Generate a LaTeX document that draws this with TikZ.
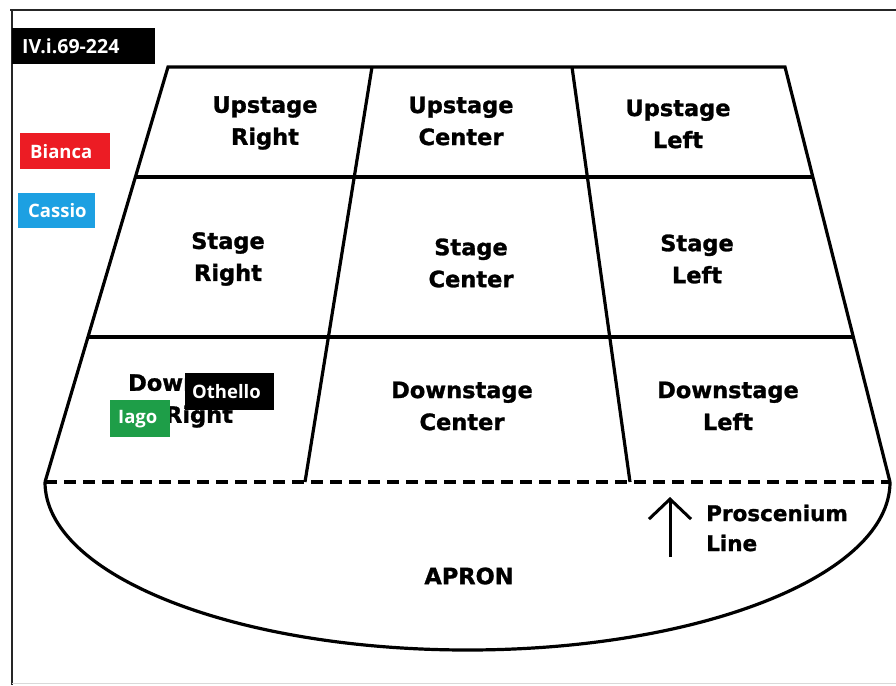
\documentclass[tikz,border=0pt]{standalone}
\usepackage{fontspec}
\usepackage{tikz}
\usetikzlibrary{arrows.meta}

\newfontfamily\stagefont{DejaVu Sans}[BoldFeatures={FakeBold=1.2}]
\newfontfamily\tagfont{Open Sans}

\definecolor{biancared}{RGB}{236,28,36}
\definecolor{cassioblue}{RGB}{29,160,226}
\definecolor{iagogreen}{RGB}{30,158,72}

\begin{document}
\begin{tikzpicture}[
		x=1pt, y=-1pt,
		stage/.style={line width=3.2pt, line join=miter},
		frame/.style={line width=2pt, black!85},
		area/.style={font=\stagefont\bfseries\fontsize{22.5}{32}\selectfont, align=center, inner sep=0pt},
		tagbox/.style={font=\tagfont\bfseries\fontsize{18.5}{20}\selectfont, text=white, align=left, minimum height=36pt, inner xsep=10pt, inner ysep=0pt, anchor=north west}
	]
  \useasboundingbox (0,0) rectangle (896,685);
  % frame
  \draw[frame] (10,10) -- (896,10);
  \draw[frame] (12,10) -- (12,685);
  \draw[black!15, line width=1pt] (12,683) -- (896,683);
  % stage corners
  \coordinate (tl) at (168,67);
  \coordinate (tr) at (785,67);
  \coordinate (bl) at (45,482);
  \coordinate (br) at (890,482);
  \coordinate (r1l) at (135,177);
  \coordinate (r1r) at (813,177);
  \coordinate (r2l) at (88,337);
  \coordinate (r2r) at (853,337);
  \coordinate (d1t) at (372,67);
  \coordinate (d1b) at (305,482);
  \coordinate (d2t) at (572,67);
  \coordinate (d2b) at (630,482);
  \draw[stage] (bl) -- (tl) -- (tr) -- (br);
  \draw[stage] (r1l) -- (r1r);
  \draw[stage] (r2l) -- (r2r);
  \draw[stage] (d1t) -- (d1b);
  \draw[stage] (d2t) -- (d2b);
  \draw[stage, dash pattern=on 12pt off 7pt] (bl) -- (br);
  % apron
  \draw[stage] (bl) .. controls (45,575) and (234,650) .. (467.5,650)
    .. controls (701,650) and (890,575) .. (br);
  % areas
  \node (ur) [area] at (265,123) {Upstage\\Right};
  \node (uc) [area] at (461,121) {Upstage\\Center};
  \node (ul) [area] at (678,124) {Upstage\\Left};
  \node (sr) [area] at (228,259) {Stage\\Right};
  \node (sc) [area] at (471,263) {Stage\\Center};
  \node (sl) [area] at (697,259) {Stage\\Left};
  \node (dr) [area] at (199,401) {Downstage\\Right};
  \node (dc) [area] at (462,406) {Downstage\\Center};
  \node (dl) [area] at (728,406) {Downstage\\Left};
  \node (apron) [area] at (469,576) {APRON};
  \node (pros) [area, font=\stagefont\bfseries\fontsize{21.5}{30}\selectfont, align=left, anchor=west] at (706,528) {Proscenium\\Line};
  % proscenium arrow
  \coordinate (arrowbase) at (670,557);
  \coordinate (arrowtip) at (670,497);
  \draw[line width=3pt, -{Straight Barb[length=20pt, width=42pt, line width=3pt]}] (arrowbase) -- (arrowtip);
  % characters
  \node (scene) [tagbox, fill=black, text width=123pt, font=\tagfont\bfseries\fontsize{19.5}{20}\selectfont] at (12,28) {IV.i.69-224};
  \node (bianca) [tagbox, fill=biancared, text width=70pt] at (20,133) {Bianca};
  \node (cassio) [tagbox, fill=cassioblue, text width=57pt, minimum height=35pt] at (18,193) {Cassio};
  \node (othello) [tagbox, fill=black, text width=75pt, inner xsep=7pt, minimum height=37pt] at (185,373) {Othello};
  \node (iago) [tagbox, fill=iagogreen, text width=44pt, inner xsep=8pt, minimum height=37pt] at (110,400) {Iago};
\end{tikzpicture}
\end{document}
